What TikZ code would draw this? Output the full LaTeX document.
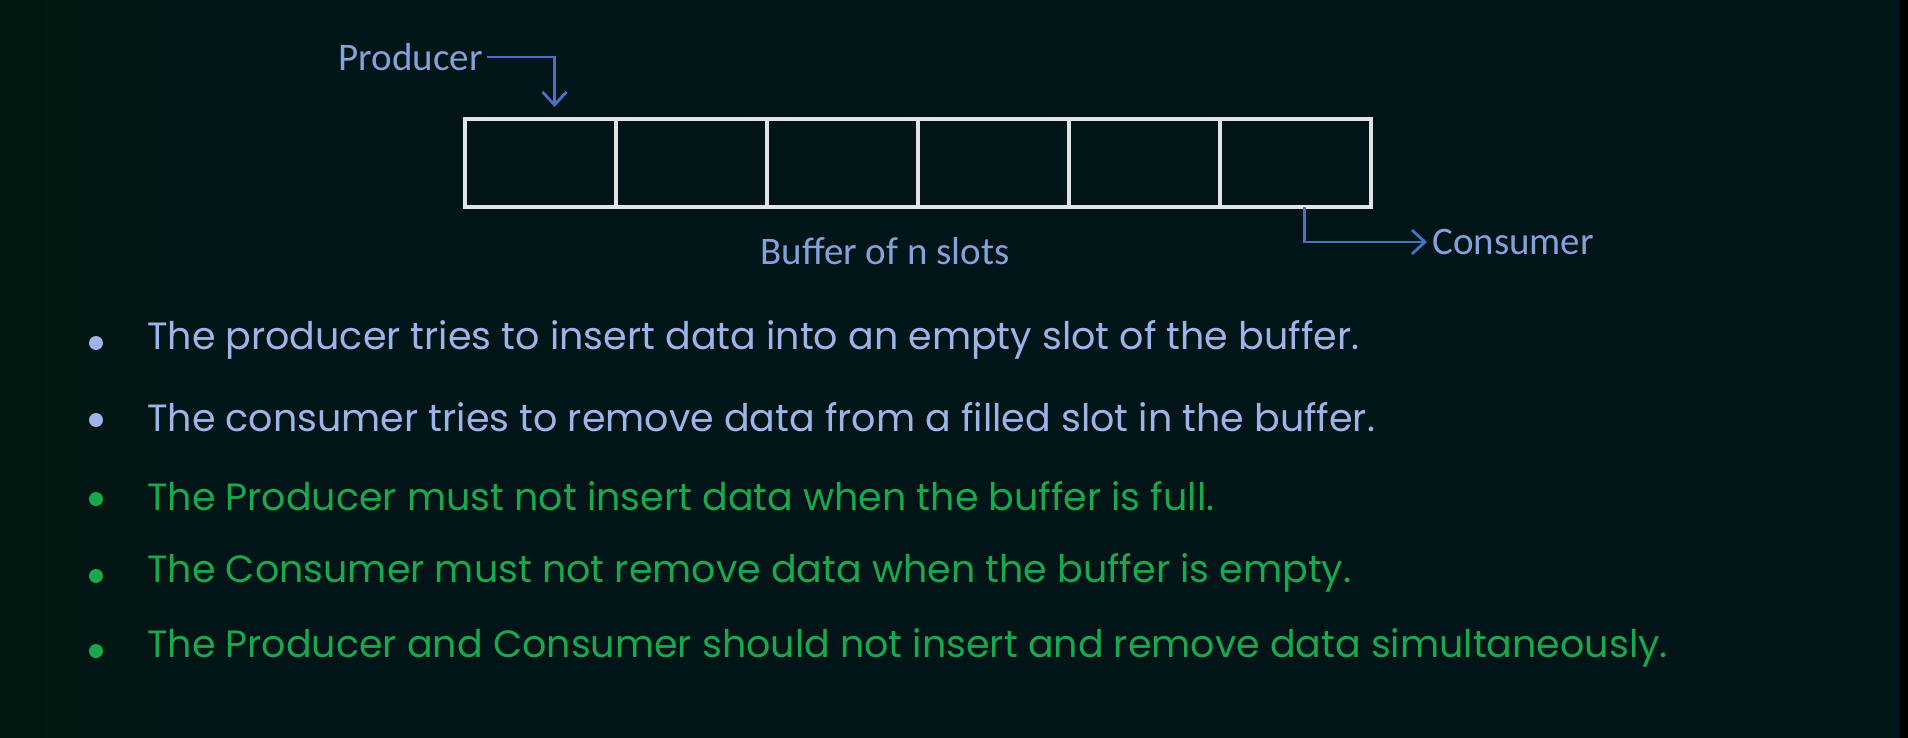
\documentclass[tikz,border=0pt]{standalone}
\usepackage{fontspec}
\usepackage{tikz}
\usetikzlibrary{arrows.meta, positioning}
\newfontfamily\calib{Carlito}
\newfontfamily\gothic{Poppins}
\definecolor{bgdark}{RGB}{1, 21, 25}
\definecolor{bgleft}{RGB}{2, 22, 16}
\definecolor{slotline}{RGB}{225, 228, 230}
\definecolor{arrowblue}{RGB}{70, 114, 196}
\definecolor{labelblue}{RGB}{132, 162, 218}
\definecolor{textblue}{RGB}{157, 180, 232}
\definecolor{textgreen}{RGB}{26, 168, 78}

\begin{document}
\begin{tikzpicture}[
    x=1pt, y=-1pt,
    slot/.style={rectangle, draw=slotline, line width=4.5pt, outer sep=0pt, minimum width=151pt, minimum height=88pt, inner sep=0pt},
    lbl/.style={text=labelblue, font=\calib\fontsize{39}{46}\selectfont, inner sep=0pt},
    arr/.style={draw=arrowblue, line width=2.8pt, -{Straight Barb[length=13pt, width=24pt, line width=2.8pt]}},
    dot/.style={circle, fill=#1, minimum size=14pt, inner sep=0pt},
    pt/.style={anchor=west, inner sep=0pt, text=#1, font=\gothic\fontsize{38}{46}\selectfont}
  ]
    % background
    \fill[bgdark] (0,0) rectangle (1908,738);
    \shade[left color=bgleft, right color=bgdark] (0,0) rectangle (260,738);
    \fill[black] (1900,0) rectangle (1908,738);
    \useasboundingbox (0,0) rectangle (1908,738);

    % buffer slots
    \node (s0) [slot] at (540.5,163) {};
    \foreach \i [remember=\i as \j (initially 0)] in {1,...,5}
      \node (s\i) [slot, right=0pt of s\j] {};

    \node (prod) [lbl, anchor=east] at (483,57) {Producer};
    \node (cons) [lbl, anchor=west] at (1432,242) {Consumer};
    \node (buf) [lbl] at (885,251) {Buffer of n slots};

    \draw[arr] ([xshift=4pt]prod.east) -| ([shift={(14,-12)}]s0.north);
    \draw[arr] ([xshift=9pt]s5.south) |- ([xshift=-5pt]cons.west);

    % rules
    \node (d1) [dot=textblue] at (96,343) {};
    \node (b1) [pt=textblue] at (147,340) {The producer tries to insert data into an empty slot of the buffer.};
    \node (d2) [dot=textblue] at (96,420) {};
    \node (b2) [pt=textblue] at (147,417) {The consumer tries to remove data from a filled slot in the buffer.};
    \node (d3) [dot=textgreen] at (96,499) {};
    \node (b3) [pt=textgreen] at (147,496) {The Producer must not insert data when the buffer is full.};
    \node (d4) [dot=textgreen] at (96,576) {};
    \node (b4) [pt=textgreen] at (147,573) {The Consumer must not remove data when the buffer is empty.};
    \node (d5) [dot=textgreen] at (96,651) {};
    \node (b5) [pt=textgreen] at (147,648) {The Producer and Consumer should not insert and remove data simultaneously.};
  \end{tikzpicture}
\end{document}
